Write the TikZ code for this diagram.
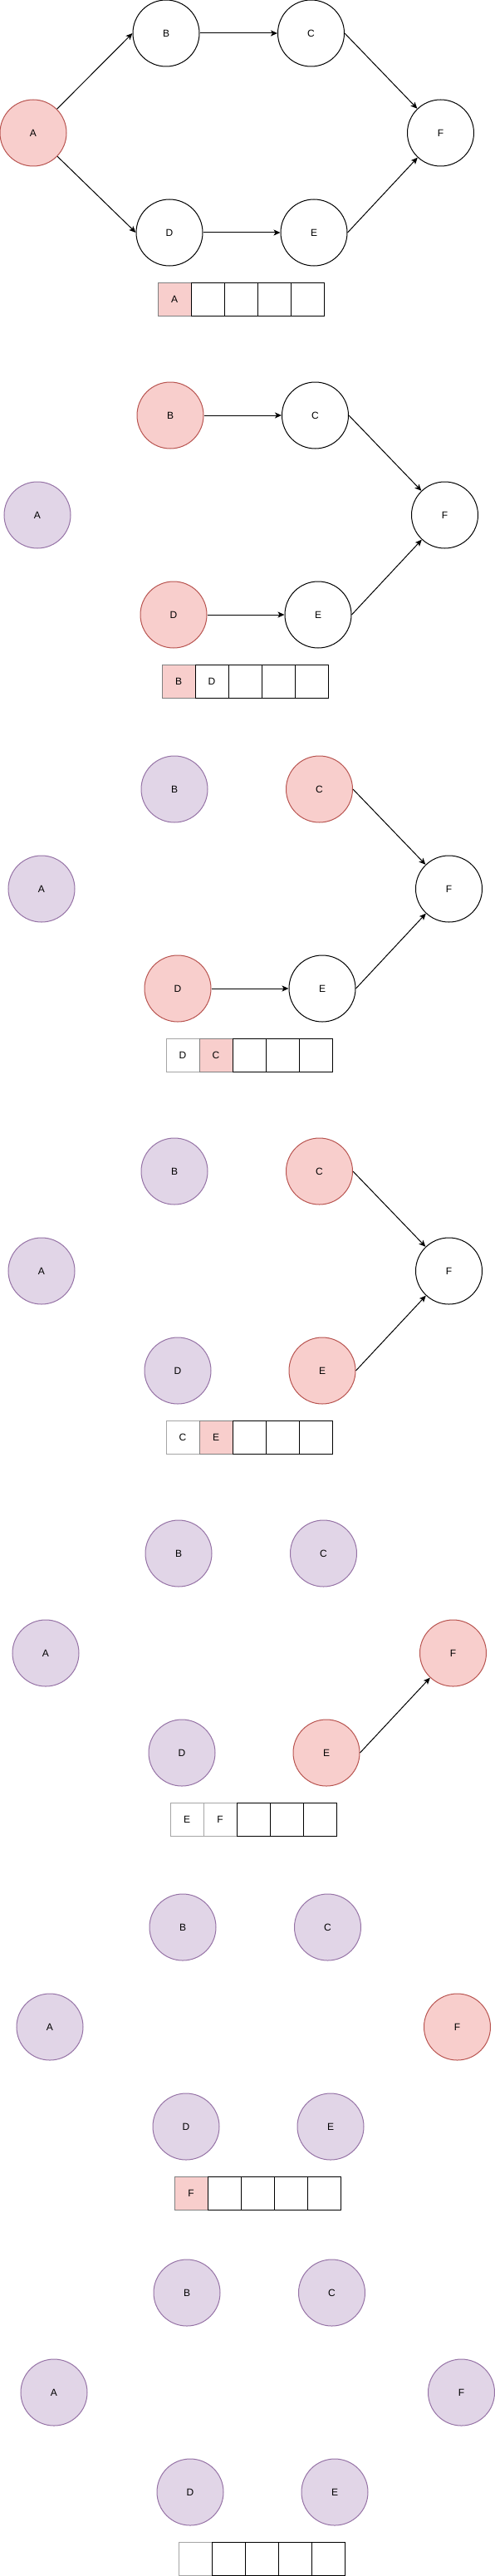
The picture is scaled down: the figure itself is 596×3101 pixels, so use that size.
\documentclass[tikz,border=0pt]{standalone}
\usepackage{fontspec}
\setmainfont{Liberation Sans}
\usepackage{tikz}
\usetikzlibrary{calc}
\usetikzlibrary{arrows.meta}
\usetikzlibrary{positioning}
\definecolor{PinkFill}{HTML}{F8CECC}
\definecolor{PinkLine}{HTML}{B85450}
\definecolor{LilacFill}{HTML}{E1D5E7}
\definecolor{LilacLine}{HTML}{9673A6}
\definecolor{CellGray}{RGB}{128,128,128}
\definecolor{CellLight}{RGB}{165,165,165}
\tikzset{
	vertex/.style={circle, draw=black, fill=white, line width=1bp, minimum size=80bp, inner sep=0pt},
	queued/.style={vertex, draw=PinkLine, fill=PinkFill},
	visited/.style={vertex, draw=LilacLine, fill=LilacFill},
	cell/.style={rectangle, draw=black, fill=white, line width=1bp, minimum size=40bp, inner sep=0pt},
	headcell/.style={cell, draw=CellGray, fill=PinkFill},
	oldcell/.style={cell, draw=CellLight},
	link/.style={line width=1bp, -{Stealth[length=8bp, width=7bp, inset=2bp]}}
}
% #1 step, #2 shift, #3-#8 styles of A..F
\newcommand{\graphStep}[8]{%
	\begin{scope}[shift={#2}]
		\node [#3] (A#1) at (40,160) {A};
		\node [#4] (B#1) at (200,40) {B};
		\node [#5] (C#1) at (374.5,40) {C};
		\node [#6] (D#1) at (204,280) {D};
		\node [#7] (E#1) at (378,280) {E};
		\node [#8] (F#1) at (530.5,160) {F};
	\end{scope}
}
% #1 step, #2 shift, #3/#4 first cell, #5/#6 second cell
\newcommand{\queueRow}[6]{%
	\begin{scope}[shift={#2}]
		\node [#3] (q#1a) at (210,360) {#4};
		\node [#5] (q#1b) at (250,360) {#6};
		\node [cell] (q#1c) at (290,360) {};
		\node [cell] (q#1d) at (330,360) {};
		\node [cell] (q#1e) at (370,360) {};
	\end{scope}
}
\begin{document}
\begin{tikzpicture}[x=1bp, y=-1bp, font=\fontsize{12bp}{14bp}\selectfont]
	\useasboundingbox (0,0) rectangle (596,3101);
	
		\graphStep{1}{(0,0)}{queued}{vertex}{vertex}{vertex}{vertex}{vertex} %start
		\draw [link] (A1) -- (B1.west);
		\draw [link] (A1) -- (D1.west);
		\draw [link] (B1.east) -- (C1.west);
		\draw [link] (D1.east) -- (E1.west);
		\draw [link] (C1.east) -- (F1);
		\draw [link] (E1.east) -- (F1);
		\queueRow{1}{(0,0)}{headcell}{A}{cell}{}
		
		\graphStep{2}{(5,460)}{visited}{queued}{vertex}{queued}{vertex}{vertex} %A done
		\draw [link] (B2.east) -- (C2.west);
		\draw [link] (D2.east) -- (E2.west);
		\draw [link] (C2.east) -- (F2);
		\draw [link] (E2.east) -- (F2);
		\queueRow{2}{(5,460)}{headcell}{B}{cell}{D}
		
		\graphStep{3}{(10,910)}{visited}{visited}{queued}{queued}{vertex}{vertex} %B done
		\draw [link] (D3.east) -- (E3.west);
		\draw [link] (C3.east) -- (F3);
		\draw [link] (E3.east) -- (F3);
		\queueRow{3}{(10,910)}{oldcell}{D}{headcell}{C}
		
		\graphStep{4}{(10,1370)}{visited}{visited}{queued}{visited}{queued}{vertex} %D done
		\draw [link] (C4.east) -- (F4);
		\draw [link] (E4.east) -- (F4);
		\queueRow{4}{(10,1370)}{oldcell}{C}{headcell}{E}
		
		\graphStep{5}{(15,1830)}{visited}{visited}{visited}{visited}{queued}{queued} %C done
		\draw [link] (E5.east) -- (F5);
		\queueRow{5}{(15,1830)}{oldcell}{E}{oldcell}{F}
		
		\graphStep{6}{(20,2280)}{visited}{visited}{visited}{visited}{visited}{queued} %E done
		\queueRow{6}{(20,2280)}{headcell}{F}{cell}{}
		
		\graphStep{7}{(25,2720)}{visited}{visited}{visited}{visited}{visited}{visited} %F done
		\queueRow{7}{(25,2720)}{oldcell}{}{cell}{}
	\end{tikzpicture}
\end{document}
